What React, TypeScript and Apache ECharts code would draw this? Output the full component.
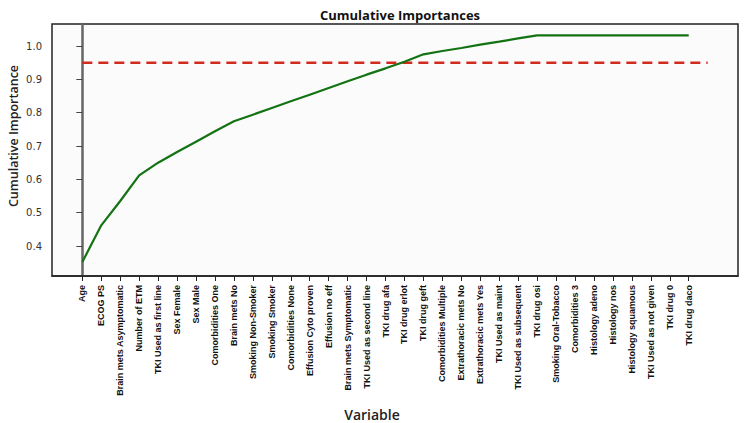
import React, { useEffect, useRef } from "react";
import * as echarts from "echarts";

const categories = [
  "Age", "ECOG PS", "Brain mets Asymptomatic", "Number of ETM", "TKI Used as first line",
  "Sex Female", "Sex Male", "Comorbidities One", "Brain mets No", "Smoking Non-Smoker",
  "Smoking Smoker", "Comorbidities None", "Effusion Cyto proven", "Effusion no eff",
  "Brain mets Symptomatic", "TKI Used as second line", "TKI drug afa", "TKI drug erlot",
  "TKI drug geft", "Comorbidities Multiple", "Extrathoracic mets No", "Extrathoracic mets Yes",
  "TKI Used as maint", "TKI Used as subsequent", "TKI drug osi", "Smoking Oral-Tobacco",
  "Comorbidities 3", "Histology adeno", "Histology nos", "Histology squamous",
  "TKI Used as not given", "TKI drug 0", "TKI drug daco",
];

const cumulative = [
  0.352, 0.462, 0.535, 0.612, 0.650, 0.682, 0.713, 0.744, 0.774, 0.794,
  0.814, 0.834, 0.854, 0.874, 0.894, 0.914, 0.933, 0.953, 0.975, 0.985,
  0.994, 1.004, 1.013, 1.023, 1.032, 1.032, 1.032, 1.032, 1.032, 1.032,
  1.032, 1.032, 1.032,
];

const threshold = 0.95;
const thresholdSpan = [0, 33];
const yTicks = [0.4, 0.5, 0.6, 0.7, 0.8, 0.9, 1.0];

export default function App() {
  const ref = useRef<HTMLDivElement>(null);
  useEffect(() => {
    if (!ref.current) return;
    const chart = echarts.init(ref.current, null, { renderer: "svg" });
    const xIdx = categories.map((_, i) => i);
    const font = "'Liberation Sans Narrow', 'Arial Narrow', 'Liberation Sans', sans-serif";
    chart.setOption({
      animation: false,
      backgroundColor: "#ffffff",
      title: {
        text: "Cumulative Importances",
        left: 395,
        top: 3,
        textAlign: "center",
        textStyle: { fontFamily: "'Open Sans', sans-serif", fontSize: 13, fontWeight: "bold", color: "#111" },
      },
      grid: {
        left: 52, right: 6, top: 24, bottom: 147,
        show: true, borderColor: "#222", borderWidth: 1.5, backgroundColor: "#fbfbfb",
      },
      xAxis: {
        type: "value",
        min: -1.6,
        max: 34.6,
        splitLine: { show: false },
        axisLine: { show: true, lineStyle: { color: "#222", width: 1.5 } },
        axisTick: { show: true, customValues: xIdx, length: 5, lineStyle: { color: "#222" } },
        axisLabel: {
          customValues: xIdx,
          rotate: 90,
          margin: 9,
          fontFamily: font,
          fontSize: 9,
          fontWeight: "bold",
          color: "#111",
          formatter: (v: number) => categories[Math.round(v)] ?? "",
        },
      },
      yAxis: {
        type: "value",
        min: 0.31,
        max: 1.066,
        splitLine: { show: false },
        axisLine: { show: true, lineStyle: { color: "#666", width: 2.5 } },
        axisTick: { show: true, customValues: yTicks, length: 6, lineStyle: { color: "#444" } },
        axisLabel: {
          customValues: yTicks,
          margin: 10,
          fontFamily: "'DejaVu Sans', sans-serif",
          fontSize: 10,
          color: "#333",
          formatter: (v: number) => v.toFixed(1),
        },
      },
      graphic: [
        {
          type: "text",
          x: 13,
          y: 136,
          rotation: Math.PI / 2,
          style: {
            text: "Cumulative Importance",
            fontFamily: "'Open Sans', sans-serif",
            fontSize: 12.5,
            fontWeight: 600,
            fill: "#222",
            textAlign: "center",
            textVerticalAlign: "middle",
          },
        },
        {
          type: "text",
          x: 372,
          y: 414,
          style: {
            text: "Variable",
            fontFamily: "'Open Sans', sans-serif",
            fontSize: 14,
            fontWeight: 600,
            fill: "#222",
            textAlign: "center",
            textVerticalAlign: "middle",
          },
        },
      ],
      series: [
        {
          type: "line",
          data: thresholdSpan.map((x) => [x, threshold]),
          symbol: "none",
          lineStyle: { color: "#d42a1e", width: 2.5, type: [10, 6] },
          z: 2,
        },
        {
          type: "line",
          data: cumulative.map((v, i) => [i, v]),
          symbol: "none",
          lineStyle: { color: "#137313", width: 2.2 },
          z: 3,
        },
      ],
    });
    return () => chart.dispose();
  }, []);
  return <div ref={ref} style={{ width: 744, height: 423, position: "fixed", left: 0, top: 0 }} />;
}
